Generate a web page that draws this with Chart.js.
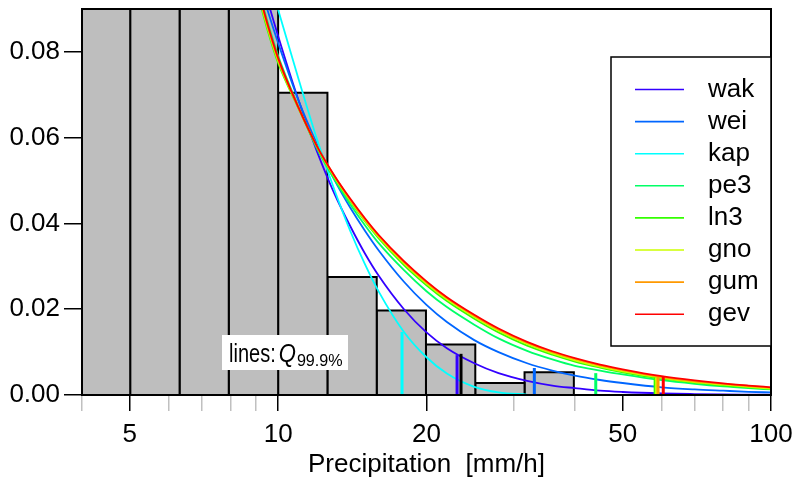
<!DOCTYPE html>
<html>
<head>
<meta charset="utf-8">
<script src="https://cdn.jsdelivr.net/npm/chart.js@4.4.1/dist/chart.umd.min.js"></script>
<style>
  html, body { margin: 0; padding: 0; background: #fff; }
  #wrap { width: 797px; height: 481px; }
</style>
</head>
<body>
<div id="wrap"><canvas id="densityChart" width="797" height="481"></canvas></div>
<script>
// histogram of observed intensities (bin edges in mm/h, density per bin)
const binEdges = [3.98, 5.01, 6.31, 7.94, 10.0, 12.59, 15.85, 19.95, 25.12, 31.62, 39.81];
const binDensity = [0.125, 0.14, 0.12, 0.105, 0.0705, 0.0275, 0.0197, 0.0118, 0.0028, 0.0053];

// fitted densities, evaluated at these intensities
const precip = [9, 9.5, 10, 11, 12, 13, 14, 15, 16, 18, 20, 22, 25, 28, 32, 36, 40, 45, 50, 60, 70, 80, 90, 100];
const wak = [0.1025, 0.0924, 0.0837, 0.0687, 0.0567, 0.0470, 0.0394, 0.0330, 0.0278, 0.0200, 0.0146, 0.0109, 0.0074, 0.0051, 0.0033, 0.0022, 0.0016, 0.0010, 0.0007, 0.00037, 0.00022, 0.00013, 0.00009, 0.00006];
const wei = [0.0990, 0.0900, 0.0821, 0.0687, 0.0584, 0.0502, 0.0437, 0.0383, 0.0337, 0.0264, 0.0210, 0.0170, 0.0128, 0.0100, 0.0074, 0.0057, 0.0045, 0.0035, 0.0028, 0.0018, 0.0013, 0.0010, 0.00075, 0.0006];
const kap = [0.1088, 0.0989, 0.0898, 0.0737, 0.0595, 0.0479, 0.0383, 0.0305, 0.0241, 0.0147, 0.0088, 0.0050, 0.0019, 0.0006, 0.0001];
const pe3 = [0.0972, 0.0873, 0.0791, 0.0672, 0.0574, 0.0503, 0.0445, 0.0396, 0.0354, 0.0291, 0.0242, 0.0205, 0.0164, 0.0132, 0.0103, 0.0083, 0.0068, 0.0057, 0.0048, 0.00345, 0.0026, 0.0020, 0.0016, 0.0013];
const ln3 = [0.0954, 0.0854, 0.0774, 0.0668, 0.0577, 0.0507, 0.0452, 0.0405, 0.0365, 0.0303, 0.0256, 0.0219, 0.0178, 0.0146, 0.0115, 0.0094, 0.0078, 0.0064, 0.0053, 0.0038, 0.0029, 0.0022, 0.0018, 0.0014];
const gno = [0.0961, 0.0860, 0.0779, 0.0669, 0.0578, 0.0509, 0.0454, 0.0407, 0.0368, 0.0307, 0.0260, 0.0223, 0.0182, 0.0150, 0.0119, 0.0097, 0.0081, 0.0066, 0.0055, 0.0040, 0.0030, 0.0024, 0.0019, 0.0015];
const gum = [0.0965, 0.0864, 0.0782, 0.0670, 0.0579, 0.0511, 0.0456, 0.0410, 0.0371, 0.0310, 0.0263, 0.0226, 0.0185, 0.0153, 0.0122, 0.0100, 0.0084, 0.0069, 0.0058, 0.0042, 0.0032, 0.0026, 0.0021, 0.0017];
const gev = [0.0968, 0.0868, 0.0786, 0.0670, 0.0579, 0.0512, 0.0458, 0.0412, 0.0373, 0.0312, 0.0265, 0.0228, 0.0187, 0.0155, 0.0124, 0.0102, 0.0086, 0.0071, 0.0060, 0.0044, 0.0034, 0.0027, 0.0022, 0.0018];

const distNames = ['wak', 'wei', 'kap', 'pe3', 'ln3', 'gno', 'gum', 'gev'];
const distValues = [wak, wei, kap, pe3, ln3, gno, gum, gev];
const distColors = ['#3300FF', '#0066FF', '#00FFFF', '#00FF66', '#33FF00', '#CCFF00', '#FF9900', '#FF0000'];

// 99.9% quantile of each fit, and the density where its marker stops
const q999 = [23.07, 33.1, 17.84, 44.1, 58.2, 58.6, 59.0, 60.45];
const q999Density = [0.0093, 0.0063, 0.0147, 0.0051, 0.0041, 0.0041, 0.0042, 0.0042];
// empirical quantile
const obsQ999 = 23.5;
const obsQ999Density = 0.0096;

// axis ticks
const xTickValues = [4, 5, 6, 7, 8, 9, 10, 20, 30, 40, 50, 60, 70, 80, 90, 100];
const xTickLabels = [5, 10, 20, 50, 100];
const yTickValues = [0, 0.02, 0.04, 0.06, 0.08];

Chart.defaults.font.family = '"Liberation Sans", Arial, sans-serif';
Chart.defaults.font.size = 26;
Chart.defaults.color = '#000';

const datasets = [];

// histogram bars as closed outlines filled to zero
for (let i = 0; i < binDensity.length; i++) {
  const a = binEdges[i], b = binEdges[i + 1], h = binDensity[i];
  datasets.push({
    label: 'hist',
    data: [{ x: a, y: 0 }, { x: a, y: h }, { x: b, y: h }, { x: b, y: 0 }],
    borderColor: '#000',
    backgroundColor: '#bebebe',
    borderWidth: 2,
    fill: 'origin',
    pointRadius: 0,
    order: 100
  });
}

// density curves
distNames.forEach((name, i) => {
  datasets.push({
    label: name,
    data: distValues[i].map((v, j) => ({ x: precip[j], y: v })),
    borderColor: distColors[i],
    borderWidth: 1.8,
    fill: false,
    pointRadius: 0,
    cubicInterpolationMode: 'monotone',
    order: 40 - i
  });
});

// quantile markers
distNames.forEach((name, i) => {
  datasets.push({
    label: 'q_' + name,
    data: [{ x: q999[i], y: 0 }, { x: q999[i], y: q999Density[i] }],
    borderColor: distColors[i],
    borderWidth: 3,
    pointRadius: 0,
    fill: false,
    order: 20 - i
  });
});
datasets.push({
  label: 'q_obs',
  data: [{ x: obsQ999, y: 0 }, { x: obsQ999, y: obsQ999Density }],
  borderColor: '#000',
  borderWidth: 3,
  pointRadius: 0,
  fill: false,
  order: 1
});

// box around the plotting region
const frame = {
  id: 'frame',
  afterDatasetsDraw(chart) {
    const { ctx, chartArea: a } = chart;
    ctx.save();
    ctx.strokeStyle = '#000';
    ctx.lineWidth = 2;
    ctx.strokeRect(a.left, a.top, a.right - a.left, a.bottom - a.top);
    ctx.restore();
  }
};

// narrow text helper: draws horizontally squeezed text, returns advance
function narrowText(ctx, text, x, y, squeeze) {
  ctx.save();
  ctx.translate(x, y);
  ctx.scale(squeeze, 1);
  ctx.fillText(text, 0, 0);
  ctx.restore();
  return ctx.measureText(text).width * squeeze;
}

// "lines: Q99.9%" note
const quantileNote = {
  id: 'quantileNote',
  afterDatasetsDraw(chart) {
    const ctx = chart.ctx;
    ctx.save();
    ctx.fillStyle = '#fff';
    ctx.fillRect(222, 335, 126, 35);
    ctx.fillStyle = '#000';
    ctx.textBaseline = 'alphabetic';
    let x = 229;
    ctx.font = '25px "Liberation Sans", Arial, sans-serif';
    x += narrowText(ctx, 'lines:', x, 362, 0.8) + 3;
    ctx.font = 'italic 26px "Liberation Sans", Arial, sans-serif';
    x += narrowText(ctx, 'Q', x, 362, 0.85) + 1;
    ctx.font = '17px "Liberation Sans", Arial, sans-serif';
    narrowText(ctx, '99.9%', x, 366, 0.95);
    ctx.restore();
  }
};

// legend box inside the plot
const legendBox = {
  id: 'legendBox',
  afterDraw(chart) {
    const { ctx, chartArea: a } = chart;
    const left = 611, top = 57, bottom = 346;
    ctx.save();
    ctx.fillStyle = '#fff';
    ctx.fillRect(left, top, a.right - left, bottom - top);
    ctx.strokeStyle = '#000';
    ctx.lineWidth = 1.5;
    ctx.strokeRect(left, top, a.right - left, bottom - top);
    ctx.font = '26px "Liberation Sans", Arial, sans-serif';
    ctx.textBaseline = 'middle';
    distNames.forEach((name, i) => {
      const y = 89.5 + i * 32.1;
      ctx.strokeStyle = distColors[i];
      ctx.lineWidth = 1.6;
      ctx.beginPath();
      ctx.moveTo(635, y);
      ctx.lineTo(684, y);
      ctx.stroke();
      ctx.fillStyle = '#000';
      ctx.fillText(name, 708, y);
    });
    ctx.restore();
  }
};

new Chart(document.getElementById('densityChart'), {
  type: 'line',
  data: { datasets: datasets },
  options: {
    responsive: false,
    animation: false,
    layout: { padding: { top: 9, right: 26, bottom: 0, left: 0 } },
    plugins: {
      legend: { display: false },
      tooltip: { enabled: false }
    },
    scales: {
      x: {
        type: 'logarithmic',
        min: 4,
        max: 100,
        afterBuildTicks: (scale) => {
          scale.ticks = xTickValues.map(v => ({ value: v, major: xTickLabels.includes(v) }));
        },
        afterFit: (scale) => {
          scale.height = 86;
          scale.paddingLeft = 0;
          scale.paddingRight = 0;
        },
        ticks: {
          autoSkip: false,
          maxRotation: 0,
          padding: 8,
          callback: (v) => xTickLabels.includes(v) ? String(v) : ''
        },
        grid: {
          drawOnChartArea: false,
          drawTicks: true,
          tickLength: 16,
          lineWidth: 1.5,
          tickColor: (c) => (c.tick && xTickLabels.includes(c.tick.value)) ? '#000' : '#c0c0c0'
        },
        border: { display: false },
        title: {
          display: true,
          text: 'Precipitation  [mm/h]',
          padding: { top: 0, bottom: 1 }
        }
      },
      y: {
        type: 'linear',
        min: 0,
        max: 0.09,
        afterBuildTicks: (scale) => {
          scale.ticks = yTickValues.map(v => ({ value: v }));
        },
        afterFit: (scale) => {
          scale.width = 82;
          scale.paddingTop = 0;
          scale.paddingBottom = 0;
        },
        ticks: {
          padding: 4,
          callback: (v) => v.toFixed(2)
        },
        grid: {
          drawOnChartArea: false,
          drawTicks: true,
          tickLength: 18,
          lineWidth: 1.5,
          tickColor: '#000'
        },
        border: { display: false }
      }
    }
  },
  plugins: [frame, quantileNote, legendBox]
});
</script>
</body>
</html>
